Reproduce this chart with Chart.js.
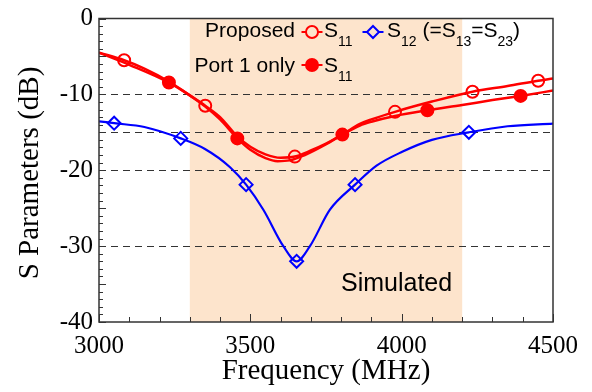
<!DOCTYPE html>
<html>
<head>
<meta charset="utf-8">
<script src="https://cdn.jsdelivr.net/npm/chart.js@4.4.1/dist/chart.umd.min.js"></script>
<style>
  body { margin: 0; background: #fff; }
</style>
</head>
<body>
<canvas id="sChart" width="592" height="392"></canvas>
<script>
// values (MHz / dB)
const propFreq = [3000, 3083, 3150, 3231, 3295, 3351, 3400, 3457, 3500, 3550, 3600, 3647, 3700, 3750, 3804, 3862, 3900, 3978, 4100, 4234, 4350, 4451, 4500];
const propS11 = [-4.5, -5.5, -6.6, -8.3, -10.0, -11.5, -13.0, -15.55, -16.9, -17.9, -18.35, -18.2, -17.4, -16.5, -15.3, -13.9, -13.3, -12.3, -10.95, -9.65, -8.9, -8.2, -7.9];
const propMarkFreq = [3083, 3351, 3647, 3978, 4234, 4451];
const propMarkS11 = [-5.5, -11.5, -18.2, -12.3, -9.65, -8.2];

const portFreq = [3000, 3100, 3231, 3295, 3351, 3400, 3457, 3500, 3550, 3590, 3630, 3680, 3740, 3804, 3862, 3900, 3978, 4085, 4200, 4300, 4393, 4500];
const portS11 = [-4.5, -6.1, -8.44, -10.0, -11.6, -13.3, -15.8, -17.3, -18.4, -18.8, -18.7, -18.0, -16.8, -15.3, -14.1, -13.6, -12.85, -12.1, -11.4, -10.75, -10.2, -9.5];
const portMarkFreq = [3231, 3457, 3804, 4085, 4393];
const portMarkS11 = [-8.44, -15.8, -15.3, -12.1, -10.2];

const s12Freq = [3000, 3050, 3150, 3270, 3350, 3433, 3486, 3543, 3609, 3653, 3697, 3763, 3846, 3917, 4000, 4100, 4222, 4350, 4500];
const s12Vals = [-13.55, -13.8, -14.3, -15.8, -17.2, -19.6, -21.9, -25.2, -30.0, -32.0, -30.0, -25.2, -21.9, -19.4, -17.6, -16.0, -15.0, -14.2, -13.85];
const s12MarkFreq = [3050, 3270, 3486, 3653, 3846, 4222];
const s12MarkVals = [-13.8, -15.8, -21.9, -32.0, -21.9, -15.0];

const xTicks = [3000, 3500, 4000, 4500];
const yTicks = [0, -10, -20, -30, -40];
const bandMHz = [3300, 4200];
const refLines = [-10, -15, -20, -30];

const RED = '#ff0000';
const BLUE = '#0000ff';
const SERIF = '"Liberation Serif", "Times New Roman", serif';
const pts = (xs, ys) => xs.map((v, i) => ({ x: v, y: ys[i] }));

Chart.defaults.font.family = SERIF;
Chart.defaults.color = '#000';

// text with subscripts, parts = [[text, isSub], ...]
function richText(ctx, x, y, parts, size, subSize) {
    parts.forEach(p => {
        ctx.font = (p[1] ? subSize : size) + 'px "Liberation Sans", Arial, sans-serif';
        ctx.fillText(p[0], x, p[1] ? y + 9 : y);
        x += ctx.measureText(p[0]).width;
    });
}

function legendLine(ctx, x0, x1, y, color, style) {
    ctx.strokeStyle = color;
    ctx.lineWidth = 2;
    ctx.beginPath(); ctx.moveTo(x0, y); ctx.lineTo(x1, y); ctx.stroke();
    const cx = (x0 + x1) / 2;
    ctx.beginPath();
    if (style === 'diamond') {
        ctx.moveTo(cx, y - 6); ctx.lineTo(cx + 6, y); ctx.lineTo(cx, y + 6); ctx.lineTo(cx - 6, y); ctx.closePath();
        ctx.fillStyle = '#fde4cc';
    } else {
        ctx.arc(cx, y, 6, 0, Math.PI * 2);
        ctx.fillStyle = style === 'filled' ? color : '#fde4cc';
    }
    ctx.fill(); ctx.stroke();
}

const decor = {
    id: 'decor',
    beforeDatasetsDraw(chart) {
        const { ctx, chartArea: a, scales: { x, y } } = chart;
        ctx.save();
        // shaded band
        const b0 = x.getPixelForValue(bandMHz[0]), b1 = x.getPixelForValue(bandMHz[1]);
        ctx.fillStyle = '#fde4cc';
        ctx.fillRect(b0, a.top, b1 - b0, a.bottom - a.top);
        // dashed reference lines
        ctx.strokeStyle = '#333';
        ctx.lineWidth = 1;
        ctx.setLineDash([7, 5]);
        refLines.forEach(v => {
            const py = Math.round(y.getPixelForValue(v)) + 0.5;
            ctx.beginPath(); ctx.moveTo(a.left, py); ctx.lineTo(a.right, py); ctx.stroke();
        });
        ctx.restore();
    },
    afterDraw(chart) {
        const { ctx, chartArea: a, scales: { x, y } } = chart;
        ctx.save();
        // frame
        ctx.strokeStyle = '#333';
        ctx.lineWidth = 1.5;
        ctx.strokeRect(a.left, a.top, a.right - a.left, a.bottom - a.top);
        // inner ticks
        ctx.lineWidth = 1;
        ctx.beginPath();
        for (let f = 3000; f <= 4500; f += 100) {
            const px = Math.round(x.getPixelForValue(f)) + 0.5;
            ctx.moveTo(px, a.bottom); ctx.lineTo(px, a.bottom - (f % 500 === 0 ? 8 : 5));
        }
        for (let d = -40; d <= 0; d += 1) {
            const py = Math.round(y.getPixelForValue(d)) + 0.5;
            ctx.moveTo(a.left, py); ctx.lineTo(a.left + (d % 5 === 0 ? 7 : 4), py);
        }
        ctx.stroke();

        // axis titles
        ctx.fillStyle = '#000';
        ctx.font = '29px ' + SERIF;
        ctx.textAlign = 'center';
        ctx.textBaseline = 'alphabetic';
        ctx.fillText('Frequency (MHz)', 326, 379);
        ctx.save();
        ctx.translate(38, 173);
        ctx.rotate(-Math.PI / 2);
        ctx.fillText('S Parameters (dB)', 0, 0);
        ctx.restore();

        // legend
        ctx.textAlign = 'right';
        ctx.font = '21px "Liberation Sans", Arial, sans-serif';
        ctx.fillText('Proposed', 295, 37);
        ctx.fillText('Port 1 only', 295, 72);
        ctx.textAlign = 'left';
        legendLine(ctx, 301.5, 322.5, 32, RED, 'open');
        ctx.fillStyle = '#000';
        richText(ctx, 324, 37, [['S'], ['11', 1]], 21, 14);
        legendLine(ctx, 362.5, 383.5, 32, BLUE, 'diamond');
        ctx.fillStyle = '#000';
        richText(ctx, 387, 37, [['S'], ['12', 1], [' (=S'], ['13', 1], ['=S'], ['23', 1], [')']], 21, 14);
        legendLine(ctx, 301.5, 322.5, 65, RED, 'filled');
        ctx.fillStyle = '#000';
        richText(ctx, 324, 72, [['S'], ['11', 1]], 21, 14);

        ctx.font = '25px "Liberation Sans", Arial, sans-serif';
        ctx.fillText('Simulated', 341, 291);
        ctx.restore();
    }
};

const ctx = document.getElementById('sChart').getContext('2d');
const sChart = new Chart(ctx, {
    type: 'line',
    data: {
        datasets: [
            {
                data: pts(propMarkFreq, propMarkS11),
                showLine: false,
                pointStyle: 'circle',
                pointRadius: 6,
                pointBorderWidth: 2,
                pointBorderColor: RED,
                pointBackgroundColor: 'rgba(0,0,0,0)',
                order: 0
            },
            {
                data: pts(portMarkFreq, portMarkS11),
                showLine: false,
                pointStyle: 'circle',
                pointRadius: 6,
                pointBorderWidth: 2,
                pointBorderColor: RED,
                pointBackgroundColor: RED,
                order: 1
            },
            {
                data: pts(s12MarkFreq, s12MarkVals),
                showLine: false,
                pointStyle: 'rectRot',
                pointRadius: 6.5,
                pointBorderWidth: 2,
                pointBorderColor: BLUE,
                pointBackgroundColor: 'rgba(0,0,0,0)',
                order: 2
            },
            {
                data: pts(propFreq, propS11),
                borderColor: RED,
                borderWidth: 2.5,
                pointRadius: 0,
                cubicInterpolationMode: 'monotone',
                order: 3
            },
            {
                data: pts(portFreq, portS11),
                borderColor: RED,
                borderWidth: 2.5,
                pointRadius: 0,
                cubicInterpolationMode: 'monotone',
                order: 4
            },
            {
                data: pts(s12Freq, s12Vals),
                borderColor: BLUE,
                borderWidth: 2.2,
                pointRadius: 0,
                cubicInterpolationMode: 'monotone',
                order: 5
            }
        ]
    },
    options: {
        responsive: false,
        animation: false,
        layout: { padding: { top: 14, right: 39, left: 0, bottom: 0 } },
        plugins: {
            legend: { display: false },
            tooltip: { enabled: false }
        },
        scales: {
            x: {
                type: 'linear',
                min: 3000,
                max: 4500,
                afterBuildTicks: s => { s.ticks = xTicks.map(v => ({ value: v })); },
                afterFit: s => { s.height = 70; },
                grid: { display: false, drawTicks: false },
                border: { display: false },
                ticks: {
                    color: '#000',
                    padding: 12,
                    maxRotation: 0,
                    callback: v => String(v),
                    font: { family: SERIF, size: 25, lineHeight: 1 }
                }
            },
            y: {
                type: 'linear',
                min: -40,
                max: 0,
                afterBuildTicks: s => { s.ticks = yTicks.map(v => ({ value: v })); },
                afterFit: s => { s.width = 99; },
                grid: { display: false, drawTicks: false },
                border: { display: false },
                ticks: {
                    color: '#000',
                    padding: 6,
                    callback: v => String(v),
                    font: { family: SERIF, size: 25, lineHeight: 1 }
                }
            }
        }
    },
    plugins: [decor]
});
</script>
</body>
</html>
